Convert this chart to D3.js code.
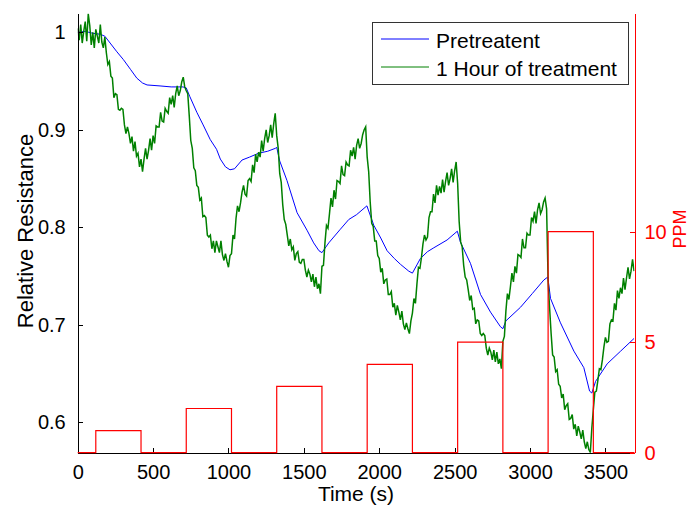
<!DOCTYPE html>
<html>
<head>
<meta charset="utf-8">
<script src="https://cdn.jsdelivr.net/npm/d3@7"></script>
<style>
  html, body { margin: 0; padding: 0; background: #fff; }
  svg { display: block; }
  text { font-family: "Liberation Sans", Arial, Helvetica, sans-serif; }
</style>
</head>
<body>
<svg id="chart" width="689" height="509"></svg>
<script>
// ---------------- DATA ----------------
const xTicks = [0, 500, 1000, 1500, 2000, 2500, 3000, 3500];
const yTicks = [0.6, 0.7, 0.8, 0.9, 1];
const yTickLabels = ["0.6", "0.7", "0.8", "0.9", "1"];
const ppmTicks = [0, 5, 10];

const seriesNames = ["Pretreatent", "1 Hour of treatment"];

// Pretreatent (blue) : time (s) and relative resistance
const blueTimes = [0, 50, 100, 150, 180, 215, 260, 303, 350, 392, 430, 460, 546, 620, 698, 720,
  744, 790, 832, 879, 921, 946, 980, 1010, 1040, 1090, 1140, 1200, 1260, 1311, 1320,
  1340, 1388, 1455, 1521, 1565, 1600, 1620, 1665, 1742, 1798, 1850, 1918,
  1964, 2010, 2052, 2100, 2141, 2196, 2220, 2273, 2320, 2362, 2450, 2518,
  2538, 2605, 2672, 2738, 2804, 2820, 2840, 2937, 3015, 3092, 3118,
  3136, 3202, 3291, 3357, 3395, 3410, 3435, 3512, 3601, 3690];
const blueValues = [1.000, 1.001, 0.999, 0.998, 0.996, 0.989, 0.980, 0.972, 0.962, 0.953, 0.948, 0.946, 0.945, 0.944, 0.944, 0.943,
  0.934, 0.918, 0.905, 0.890, 0.880, 0.870, 0.862, 0.859, 0.860, 0.869, 0.872, 0.876, 0.878, 0.881, 0.882,
  0.868, 0.848, 0.815, 0.797, 0.784, 0.776, 0.774, 0.784, 0.798, 0.808, 0.813, 0.822,
  0.802, 0.789, 0.776, 0.768, 0.762, 0.755, 0.753, 0.768, 0.775, 0.779, 0.787, 0.796,
  0.785, 0.763, 0.731, 0.713, 0.698, 0.696, 0.704, 0.718, 0.732, 0.746, 0.749,
  0.727, 0.702, 0.673, 0.656, 0.632, 0.630, 0.642, 0.660, 0.673, 0.686];

// 1 Hour of treatment (green) : one reading every 10 s starting at 0 s
const greenStep = 10;
const greenValues = [
  1.004, 0.992, 1.008, 0.989, 1.001, 1.011, 0.991, 1.019, 1.007, 0.987,
  1.000, 0.984, 1.003, 0.996, 0.989, 1.008, 0.990, 0.984, 0.995, 0.979,
  0.967, 0.970, 0.955, 0.953, 0.933, 0.937, 0.936, 0.921, 0.920, 0.922,
  0.921, 0.905, 0.896, 0.903, 0.896, 0.886, 0.893, 0.878, 0.888, 0.873,
  0.876, 0.862, 0.870, 0.857, 0.870, 0.881, 0.870, 0.879, 0.891, 0.879,
  0.894, 0.886, 0.904, 0.903, 0.903, 0.918, 0.909, 0.908, 0.922, 0.919,
  0.917, 0.933, 0.926, 0.935, 0.923, 0.937, 0.945, 0.935, 0.940, 0.949,
  0.954, 0.944, 0.940, 0.937, 0.914, 0.889, 0.881, 0.861, 0.858, 0.843,
  0.841, 0.828, 0.830, 0.811, 0.812, 0.810, 0.792, 0.790, 0.792, 0.778,
  0.786, 0.774, 0.786, 0.780, 0.774, 0.786, 0.772, 0.766, 0.773, 0.765,
  0.759, 0.771, 0.773, 0.792, 0.788, 0.809, 0.822, 0.816, 0.825, 0.836,
  0.843, 0.834, 0.832, 0.848, 0.850, 0.847, 0.864, 0.856, 0.875, 0.867,
  0.877, 0.872, 0.889, 0.878, 0.891, 0.900, 0.887, 0.894, 0.905, 0.892,
  0.906, 0.917, 0.894, 0.881, 0.855, 0.846, 0.823, 0.808, 0.803, 0.792,
  0.781, 0.788, 0.777, 0.780, 0.766, 0.773, 0.775, 0.764, 0.763, 0.767,
  0.767, 0.756, 0.749, 0.756, 0.752, 0.744, 0.752, 0.739, 0.749, 0.737,
  0.742, 0.732, 0.760, 0.761, 0.784, 0.802, 0.799, 0.814, 0.830, 0.821,
  0.838, 0.829, 0.848, 0.847, 0.845, 0.863, 0.854, 0.853, 0.867, 0.864,
  0.863, 0.879, 0.873, 0.882, 0.870, 0.884, 0.891, 0.881, 0.886, 0.895,
  0.900, 0.903, 0.872, 0.857, 0.826, 0.804, 0.801, 0.786, 0.786, 0.771,
  0.768, 0.754, 0.758, 0.742, 0.746, 0.747, 0.731, 0.731, 0.734, 0.718,
  0.722, 0.710, 0.720, 0.713, 0.705, 0.714, 0.701, 0.695, 0.702, 0.696,
  0.691, 0.704, 0.712, 0.727, 0.722, 0.742, 0.759, 0.758, 0.769, 0.783,
  0.792, 0.787, 0.790, 0.810, 0.816, 0.816, 0.834, 0.825, 0.843, 0.833,
  0.842, 0.835, 0.849, 0.836, 0.847, 0.856, 0.843, 0.850, 0.860, 0.846,
  0.858, 0.867, 0.845, 0.806, 0.785, 0.780, 0.761, 0.749, 0.746, 0.736,
  0.725, 0.730, 0.716, 0.717, 0.701, 0.705, 0.704, 0.691, 0.689, 0.691,
  0.689, 0.676, 0.669, 0.676, 0.672, 0.664, 0.674, 0.662, 0.672, 0.660,
  0.665, 0.655, 0.683, 0.688, 0.714, 0.732, 0.726, 0.739, 0.753, 0.744,
  0.760, 0.753, 0.772, 0.771, 0.769, 0.788, 0.779, 0.779, 0.794, 0.792,
  0.792, 0.810, 0.806, 0.816, 0.804, 0.818, 0.825, 0.814, 0.818, 0.826,
  0.830, 0.819, 0.745, 0.717, 0.691, 0.669, 0.667, 0.652, 0.654, 0.639,
  0.637, 0.625, 0.629, 0.613, 0.617, 0.619, 0.603, 0.604, 0.608, 0.593,
  0.598, 0.586, 0.596, 0.590, 0.583, 0.592, 0.580, 0.573, 0.580, 0.572,
  0.569, 0.594, 0.613, 0.631, 0.632, 0.643, 0.655, 0.654, 0.664, 0.677,
  0.687, 0.682, 0.683, 0.701, 0.705, 0.704, 0.722, 0.715, 0.735, 0.727,
  0.738, 0.732, 0.748, 0.736, 0.748, 0.759, 0.747, 0.755, 0.767, 0.755
];

// Gas exposure pulses (PPM)
const pulseStart = [120, 720, 1320, 1920, 2520, 3120];
const pulseEnd   = [420, 1020, 1620, 2220, 2820, 3420];
const pulsePPM   = [1, 2, 3, 4, 5, 10];

const timeMax = 3693;
const rrDomain = [0.5688, 1.0195];
const ppmDomain = [0, 19.88];

// ---------------- CHART ----------------
const svg = d3.select("#chart");
const L = 77.7, R = 634.5, T = 13.3, B = 452.7;

const x = d3.scaleLinear().domain([0, timeMax]).range([L, R]);
const y = d3.scaleLinear().domain(rrDomain).range([B, T]);
const yR = d3.scaleLinear().domain(ppmDomain).range([B, T]);

const green = "#008000", blue = "#0000ff", red = "#ff0000";

const greenData = greenValues.map((v, i) => [i * greenStep, v]);
const blueData = blueTimes.map((t, i) => [t, blueValues[i]]);

const line = d3.line().x(d => x(d[0])).y(d => y(d[1]));

svg.append("defs").append("clipPath").attr("id", "plotclip")
  .append("rect").attr("x", L).attr("y", T).attr("width", R - L).attr("height", B - T);

const plot = svg.append("g").attr("clip-path", "url(#plotclip)");

plot.append("path").datum(blueData)
  .attr("d", line).attr("fill", "none").attr("stroke", blue).attr("stroke-width", 1);
plot.append("path").datum(greenData)
  .attr("d", line).attr("fill", "none").attr("stroke", green).attr("stroke-width", 1.5)
  .attr("stroke-linejoin", "miter");

// X axis (black, ticks inward)
const xAxis = d3.axisBottom(x).tickValues(xTicks).tickSizeInner(-5).tickSizeOuter(0).tickPadding(12)
  .tickFormat(d3.format("d"));
const gx = svg.append("g").attr("transform", `translate(0,${B})`).call(xAxis);
gx.select(".domain").attr("stroke", "#000").attr("shape-rendering", "crispEdges");
gx.selectAll(".tick line").attr("stroke", "#000").attr("shape-rendering", "crispEdges");
gx.selectAll(".tick text").attr("font-size", 20).attr("fill", "#000")
  .attr("font-family", "'Liberation Sans', Arial, sans-serif");

// Left Y axis
const yAxis = d3.axisLeft(y).tickValues(yTicks).tickSizeInner(-5).tickSizeOuter(0).tickPadding(12)
  .tickFormat((d, i) => yTickLabels[i]);
const gy = svg.append("g").attr("transform", `translate(${L},0)`).call(yAxis);
gy.select(".domain").attr("stroke", "#000").attr("shape-rendering", "crispEdges");
gy.selectAll(".tick line").attr("stroke", "#000").attr("shape-rendering", "crispEdges");
gy.selectAll(".tick text").attr("font-size", 20).attr("fill", "#000")
  .attr("font-family", "'Liberation Sans', Arial, sans-serif");

// PPM step trace (red)
const stepPts = [[0, 0]];
pulseStart.forEach((s, i) => { stepPts.push([s, pulsePPM[i]]); stepPts.push([pulseEnd[i], 0]); });
stepPts.push([timeMax, 0]);
const stepLine = d3.line().x(d => x(d[0])).y(d => yR(d[1])).curve(d3.curveStepAfter);
svg.append("path").datum(stepPts).attr("d", stepLine)
  .attr("fill", "none").attr("stroke", red).attr("stroke-width", 1.2);

// Right Y axis (red)
const yRAxis = d3.axisRight(yR).tickValues(ppmTicks).tickSizeInner(-5).tickSizeOuter(0).tickPadding(10)
  .tickFormat(d3.format("d"));
const gr = svg.append("g").attr("transform", `translate(${R},0)`).call(yRAxis);
gr.select(".domain").attr("stroke", red).attr("shape-rendering", "crispEdges");
gr.selectAll(".tick line").attr("stroke", red).attr("shape-rendering", "crispEdges");
gr.selectAll(".tick text").attr("font-size", 20).attr("fill", red)
  .attr("font-family", "'Liberation Sans', Arial, sans-serif");

// Axis labels
svg.append("text").attr("x", 356).attr("y", 501).attr("text-anchor", "middle")
  .attr("font-size", 21).attr("fill", "#000").text("Time (s)");
svg.append("text").attr("transform", "translate(33,231) rotate(-90)").attr("text-anchor", "middle")
  .attr("font-size", 22).attr("fill", "#000").text("Relative Resistance");
svg.append("text").attr("transform", "translate(686,229) rotate(-90)").attr("text-anchor", "middle")
  .attr("font-size", 18).attr("fill", red).text("PPM");

// Legend
const lg = svg.append("g");
lg.append("rect").attr("x", 372.5).attr("y", 22.5).attr("width", 256).attr("height", 62)
  .attr("fill", "#fff").attr("stroke", "#333").attr("stroke-width", 1);
const legendColors = [blue, green];
seriesNames.forEach((name, i) => {
  const yy = 39 + i * 28;
  lg.append("line").attr("x1", 381).attr("x2", 429).attr("y1", yy).attr("y2", yy)
    .attr("stroke", legendColors[i]).attr("stroke-width", 1);
  lg.append("text").attr("x", 436).attr("y", yy + 8.5).attr("font-size", 21)
    .attr("fill", "#000").text(name);
});
</script>
</body>
</html>
